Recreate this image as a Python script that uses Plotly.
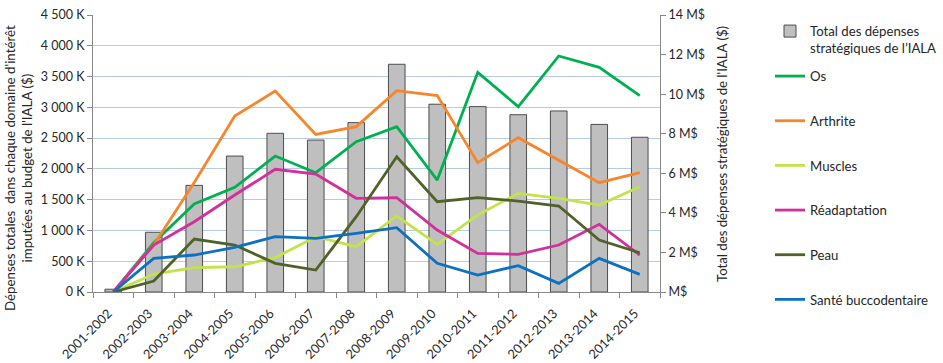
import plotly.graph_objects as go

categories = ["2001-2002", "2002-2003", "2003-2004", "2004-2005", "2005-2006",
              "2006-2007", "2007-2008", "2008-2009", "2009-2010", "2010-2011",
              "2011-2012", "2012-2013", "2013-2014", "2014-2015"]

# Total strategic spending (M$, right axis)
total_ms = [0.14, 3.02, 5.39, 6.87, 8.02, 7.68, 8.56, 11.51, 9.49, 9.37, 8.96, 9.15, 8.47, 7.82]

# Spending per area (K$, left axis)
os_k = [0, 800, 1430, 1700, 2209, 1938, 2442, 2686, 1819, 3569, 3011, 3834, 3650, 3189]
arthrite_k = [0, 763, 1780, 2859, 3265, 2561, 2686, 3271, 3190, 2101, 2507, 2144, 1776, 1938]
muscles_k = [0, 292, 395, 410, 558, 899, 736, 1235, 774, 1251, 1603, 1522, 1413, 1711]
readapt_k = [0, 763, 1142, 1576, 1993, 1917, 1522, 1532, 1007, 628, 612, 763, 1099, 601]
peau_k = [0, 179, 861, 763, 466, 357, 1224, 2198, 1467, 1532, 1478, 1397, 845, 638]
sante_k = [0, 547, 601, 726, 899, 872, 953, 1045, 466, 276, 428, 141, 547, 287]

left_tickvals = [0, 500, 1000, 1500, 2000, 2500, 3000, 3500, 4000, 4500]
left_ticktext = ["0 K", "500 K", "1 000 K", "1 500 K", "2 000 K", "2 500 K",
                 "3 000 K", "3 500 K", "4 000 K", "4 500 K"]
right_tickvals = [0, 2, 4, 6, 8, 10, 12, 14]
right_ticktext = ["M$", "2 M$", "4 M$", "6 M$", "8 M$", "10 M$", "12 M$", "14 M$"]

series = [
    ("Os", os_k, "#00b050"),
    ("Arthrite", arthrite_k, "#f7862a"),
    ("Muscles", muscles_k, "#c2e34c"),
    ("Réadaptation", readapt_k, "#d12f9c"),
    ("Peau", peau_k, "#4f6228"),
    ("Santé buccodentaire", sante_k, "#0c70c3"),
]

FONT = "Lato, 'Open Sans', sans-serif"
TXT = "#262626"
W, H = 943, 363
L, R, T, B = 93, 283, 15, 71

fig = go.Figure()
fig.add_trace(go.Bar(
    x=categories, y=total_ms, name="Total des dépenses<br>stratégiques de l’IALA",
    marker=dict(color="#bfbfbf", line=dict(color="#4d4d4d", width=1)),
    width=0.41, yaxis="y", legend="legend2",
))
for i, (name, vals, col) in enumerate(series):
    fig.add_trace(go.Scatter(
        x=categories, y=vals, name=name, mode="lines",
        line=dict(color=col, width=2.8), yaxis="y2", legendgroup=f"g{i}",
        legend="legend",
    ))

axis_line = "#888888"
pw = W - L - R
ph = H - T - B
legend_common = dict(xref="container", yref="container", xanchor="left", yanchor="top",
                     font=dict(size=13.2, family=FONT, color=TXT), valign="top",
                     itemwidth=30, maxheight=1.0, bgcolor="rgba(0,0,0,0)")
fig.update_layout(
    width=W, height=H,
    margin=dict(l=L, r=R, t=T, b=B, autoexpand=False),
    paper_bgcolor="white", plot_bgcolor="white",
    font=dict(family=FONT, size=12, color=TXT),
    showlegend=True,
    legend=dict(**legend_common, x=770 / W, y=1 - 61 / H,
                traceorder="grouped", tracegroupgap=24.5),
    legend2=dict(**legend_common, x=770 / W, y=1 - 16 / H),
    xaxis=dict(type="category", tickangle=-45, tickfont=dict(size=12.8),
               showline=True, linecolor=axis_line, linewidth=1,
               ticks="outside", tickson="boundaries", ticklen=5, tickcolor=axis_line,
               showgrid=False, range=[-0.5, 13.5], automargin=False,
               ticklabelshift=-5, ticklabelstandoff=8),
    yaxis=dict(side="right", range=[0, 14], tickvals=right_tickvals, ticktext=right_ticktext,
               showgrid=False, showline=True, linecolor=axis_line, linewidth=1,
               ticks="outside", ticklen=5, tickcolor=axis_line, tickfont=dict(size=12.5),
               zeroline=False, automargin=False),
    yaxis2=dict(side="left", overlaying="y", range=[0, 4500],
                tickvals=left_tickvals, ticktext=left_ticktext,
                showgrid=True, gridcolor="#b7cbe6", gridwidth=1.3,
                showline=True, linecolor=axis_line, linewidth=1,
                ticks="outside", ticklen=5, tickcolor=axis_line, tickfont=dict(size=12.5),
                zeroline=False, automargin=False),
    bargap=0.5,
    annotations=[
        dict(text="Dépenses totales \u00a0dans chaque domaine d'intérêt<br>imputées au budget de l'IALA ($)",
             xref="paper", yref="paper", x=(18 - L) / pw, y=(H - B - 168) / ph,
             xanchor="center", yanchor="middle", textangle=-90, showarrow=False,
             font=dict(size=13.3, family=FONT, color=TXT)),
        dict(text="Total des dépenses stratégiques de l'IALA ($)",
             xref="paper", yref="paper", x=(722 - L) / pw, y=(H - B - 154) / ph,
             xanchor="center", yanchor="middle", textangle=-90, showarrow=False,
             font=dict(size=13.2, family=FONT, color=TXT)),
    ],
)

fig.write_html("out.html", config={"displayModeBar": False},
               post_script="document.body.style.margin='0';document.body.style.overflow='hidden';")
